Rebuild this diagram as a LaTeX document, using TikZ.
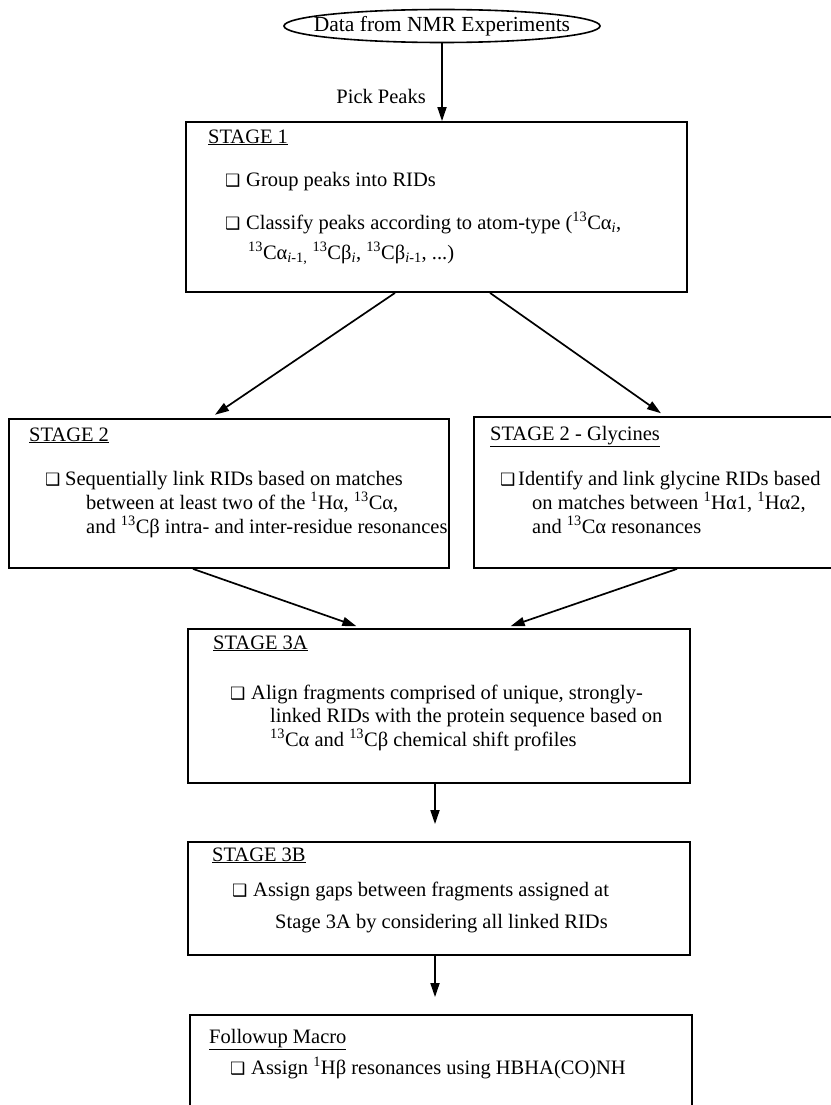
\documentclass[tikz,border=0pt]{standalone}
\usepackage{fontspec}
\setmainfont{Liberation Serif}
\newfontfamily\dingfont{DejaVu Sans}
\usetikzlibrary{shapes,arrows.meta}

\newcommand{\chk}[1][21pt]{\makebox[#1][l]{\dingfont\fontsize{17}{17}\selectfont ❑}}
\newcommand{\iso}[1]{\textsuperscript{#1}}
\newcommand{\sub}[1]{\textsubscript{#1}}

\begin{document}
\begin{tikzpicture}[x=1pt,y=-1pt,
  every node/.style={font=\fontsize{20.5}{24}\selectfont},
  stagebox/.style={draw,rectangle,line width=1.8pt,inner sep=0pt},
  txt/.style={anchor=base west,inner sep=0pt},
  flow/.style={line width=1.7pt,-{Triangle[length=14pt,width=9pt]}}]
  \useasboundingbox (0,0) rectangle (830,1105);

  % input
  \node[ellipse,draw,line width=1.6pt,minimum width=316pt,minimum height=33pt] (nmr) at (442,26) {};
  \node[font=\fontsize{21.5}{24}\selectfont] (nmrtext) at (nmr.center) {Data from NMR Experiments};

  % boxes
  \node[stagebox,minimum width=501pt,minimum height=170pt] (s1) at (436.5,207) {};
  \node[stagebox,minimum width=440pt,minimum height=149pt] (s2) at (229,493.5) {};
  \node[stagebox,minimum width=362pt,minimum height=151pt] (s2g) at (655,492.5) {};
  \node[stagebox,minimum width=502pt,minimum height=154pt] (s3a) at (439,706) {};
  \node[stagebox,minimum width=502pt,minimum height=113pt] (s3b) at (439,898.5) {};
  \node[stagebox,minimum width=502pt,minimum height=115pt] (fu) at (441,1072.5) {};

  % stage 1
  \node[txt] (s1title) at (208,143) {\underline{STAGE 1}};
  \node[txt] (s1a) at (225,186) {\chk Group peaks into RIDs};
  \node[txt] (s1b) at (225,229) {\chk Classify peaks according to atom-type (\iso{13}Cα\sub{\itshape i},};
  \node[txt] (s1c) at (248,259) {\iso{13}Cα\sub{\itshape i\upshape-1,} \iso{13}Cβ\sub{\itshape i}, \iso{13}Cβ\sub{\itshape i\upshape-1}, ...)};

  % stage 2
  \node[txt] (s2title) at (29,441) {\underline{STAGE 2}};
  \node[txt] (s2a) at (45,485) {\chk[20pt]Sequentially link RIDs based on matches};
  \node[txt] (s2b) at (86,509) {between at least two of the \iso{1}Hα, \iso{13}Cα,};
  \node[txt] (s2c) at (86,533) {and \iso{13}Cβ intra- and inter-residue resonances};

  % stage 2 glycines
  \node[txt] (s2gtitle) at (490,440) {\underline{STAGE 2 - Glycines}};
  \node[txt] (s2ga) at (500,485) {\chk[18pt]Identify and link glycine RIDs based};
  \node[txt] (s2gb) at (532,509) {on matches between \iso{1}Hα1, \iso{1}Hα2,};
  \node[txt] (s2gc) at (532,533) {and \iso{13}Cα resonances};

  % stage 3A
  \node[txt] (s3atitle) at (213,649) {\underline{STAGE 3A}};
  \node[txt] (s3aa) at (230,699) {\chk Align fragments comprised of unique, strongly-};
  \node[txt] (s3ab) at (270,722) {linked RIDs with the protein sequence based on};
  \node[txt] (s3ac) at (270,746) {\iso{13}Cα and \iso{13}Cβ chemical shift profiles};

  % stage 3B
  \node[txt] (s3btitle) at (212,861) {\underline{STAGE 3B}};
  \node[txt] (s3ba) at (232,896) {\chk Assign gaps between fragments assigned at};
  \node[txt] (s3bb) at (275,928) {Stage 3A by considering all linked RIDs};

  % followup
  \node[txt] (futitle) at (209,1043) {\underline{Followup Macro}};
  \node[txt] (fua) at (230,1074) {\chk Assign \iso{1}Hβ resonances using HBHA(CO)NH};

  % arrows
  \draw[flow] (nmr.south) -- (nmr.south |- s1.north) node[pos=0.69,left=12pt] {Pick Peaks};
  \draw[flow,shorten >=6pt] ([xshift=-41.5pt]s1.south) -- ([xshift=-19pt]s2.north);
  \draw[flow,shorten >=5pt] ([xshift=53.5pt]s1.south) -- ([xshift=10pt]s2g.north);
  \draw[flow,shorten >=6pt] ([xshift=-36pt]s2.south) -- ([xshift=-77pt]s3a.north);
  \draw[flow,shorten >=6pt] ([xshift=22pt]s2g.south) -- ([xshift=66pt]s3a.north);
  \draw[flow,shorten >=17pt] ([xshift=-4pt]s3a.south) -- ([xshift=-4pt]s3b.north);
  \draw[flow,shorten >=17pt] ([xshift=-4pt]s3b.south) -- ([xshift=-6pt]fu.north);

\end{tikzpicture}
\end{document}
